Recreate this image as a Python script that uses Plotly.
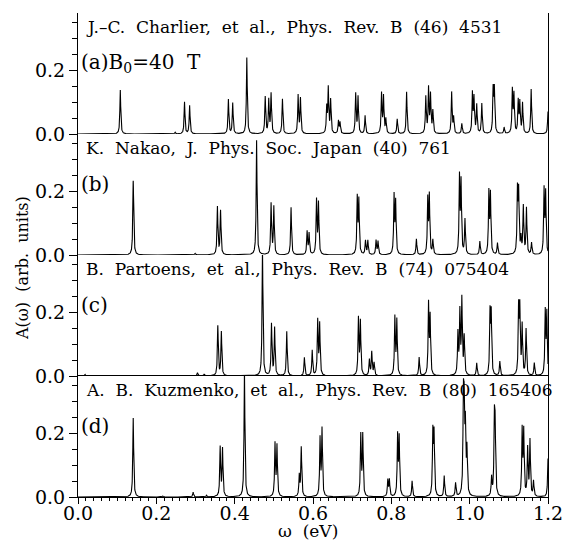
import numpy as np
import plotly.graph_objects as go

# ---- data: peak positions (eV) and heights (arb. units) ----
pos_a = [0.108, 0.248, 0.272, 0.285, 0.384, 0.395, 0.431, 0.478, 0.487, 0.493, 0.522,
         0.562, 0.568, 0.635, 0.639, 0.645, 0.665, 0.669, 0.709, 0.715, 0.733, 0.775,
         0.780, 0.786, 0.815, 0.839, 0.888, 0.895, 0.900, 0.906, 0.954, 0.959, 0.980,
         1.007, 1.011, 1.018, 1.031, 1.060, 1.063, 1.088, 1.109, 1.113, 1.124, 1.128,
         1.135, 1.157, 1.200]
amp_a = [0.138, 0.005, 0.100, 0.089, 0.108, 0.097, 0.240, 0.116, 0.105, 0.125, 0.110,
         0.120, 0.110, 0.080, 0.140, 0.105, 0.040, 0.035, 0.125, 0.115, 0.057, 0.125,
         0.115, 0.045, 0.047, 0.132, 0.115, 0.140, 0.120, 0.070, 0.130, 0.050, 0.032,
         0.125, 0.110, 0.090, 0.095, 0.135, 0.135, 0.020, 0.135, 0.120, 0.100, 0.095,
         0.095, 0.140, 0.070]

pos_b = [0.141, 0.299, 0.356, 0.364, 0.456, 0.493, 0.500, 0.544, 0.585, 0.590, 0.609,
         0.614, 0.713, 0.717, 0.734, 0.740, 0.761, 0.766, 0.807, 0.811, 0.864, 0.893,
         0.897, 0.906, 0.974, 0.978, 0.988, 1.026, 1.049, 1.053, 1.071, 1.122, 1.125,
         1.131, 1.137, 1.145, 1.158, 1.190, 1.194]
amp_b = [0.233, 0.005, 0.150, 0.138, 0.360, 0.160, 0.150, 0.149, 0.072, 0.066, 0.170,
         0.160, 0.176, 0.166, 0.044, 0.044, 0.045, 0.042, 0.182, 0.162, 0.050, 0.172,
         0.182, 0.045, 0.240, 0.222, 0.110, 0.042, 0.192, 0.186, 0.037, 0.195, 0.188,
         0.048, 0.150, 0.145, 0.037, 0.200, 0.190]

pos_c = [0.018, 0.305, 0.322, 0.357, 0.366, 0.471, 0.494, 0.502, 0.533, 0.578, 0.598,
         0.612, 0.617, 0.716, 0.721, 0.744, 0.750, 0.756, 0.809, 0.814, 0.871, 0.895,
         0.899, 0.970, 0.975, 0.980, 0.986, 1.018, 1.052, 1.055, 1.077, 1.125, 1.128,
         1.134, 1.144, 1.165, 1.193, 1.197]
amp_c = [0.005, 0.010, 0.006, 0.156, 0.138, 0.400, 0.162, 0.150, 0.140, 0.058, 0.080,
         0.172, 0.160, 0.178, 0.168, 0.050, 0.074, 0.040, 0.182, 0.172, 0.058, 0.222,
         0.180, 0.130, 0.195, 0.235, 0.120, 0.040, 0.192, 0.188, 0.045, 0.205, 0.200,
         0.155, 0.145, 0.040, 0.198, 0.192]

pos_d = [0.141, 0.216, 0.294, 0.328, 0.363, 0.369, 0.425, 0.503, 0.508, 0.565, 0.570,
         0.618, 0.623, 0.722, 0.727, 0.791, 0.795, 0.816, 0.820, 0.853, 0.906, 0.909,
         0.935, 0.964, 0.984, 0.986, 0.989, 0.993, 1.056, 1.063, 1.065, 1.134, 1.138,
         1.148, 1.154, 1.163, 1.200]
amp_d = [0.248, 0.003, 0.015, 0.005, 0.155, 0.150, 0.400, 0.165, 0.158, 0.066, 0.155,
         0.180, 0.210, 0.192, 0.192, 0.052, 0.052, 0.188, 0.182, 0.050, 0.196, 0.190,
         0.066, 0.043, 0.280, 0.240, 0.200, 0.140, 0.058, 0.225, 0.200, 0.205, 0.200,
         0.150, 0.175, 0.048, 0.120]

NB = "\u00a0\u00a0"
panel_refs = [NB.join(["J.\u2013C.", "Charlier,", "et", "al.,", "Phys.", "Rev.", "B", "(46)", "4531"]),
              NB.join(["K.", "Nakao,", "J.", "Phys.", "Soc.", "Japan", "(40)", "761"]),
              NB.join(["B.", "Partoens,", "et", "al.,", "Phys.", "Rev.", "B", "(74)", "075404"]),
              NB.join(["A.", "B.", "Kuzmenko,", "et", "al.,", "Phys.", "Rev.", "B", "(80)", "165406"])]
panel_tags = ["(a)B<sub>0</sub>=40\u00a0\u00a0T", "(b)", "(c)", "(d)"]

x_ticks = [0.0, 0.2, 0.4, 0.6, 0.8, 1.0, 1.2]
x_ticklabels = ["0.0", "0.2", "0.4", "0.6", "0.8", "1.0", "1.2"]
y_ticks = [0.0, 0.2]
y_ticklabels = ["0.0", "0.2"]

GAMMA = 0.0013  # Lorentzian half width (eV)
w = np.linspace(0.0, 1.2, 6001)


def spectrum(pos, amp):
    a = np.zeros_like(w)
    for p, h in zip(pos, amp):
        a += h * GAMMA ** 2 / ((w - p) ** 2 + GAMMA ** 2)
    return a


panels = [(pos_a, amp_a), (pos_b, amp_b), (pos_c, amp_c), (pos_d, amp_d)]

FONT = "DejaVu Serif"
L, R, T, B = 78, 15, 13, 45
W, H = 563, 542
PH = H - T - B
fig = go.Figure()
n = 4
YMAX = 0.38
for i, (p, h) in enumerate(panels):
    yname = "y" if i == 0 else f"y{i+1}"
    fig.add_trace(go.Scatter(x=w, y=spectrum(p, h), mode="lines",
                             line=dict(color="black", width=1.1),
                             xaxis="x", yaxis=yname, showlegend=False,
                             hoverinfo="skip"))
    top = 1 - i / n
    bot = 1 - (i + 1) / n
    ax = dict(domain=[bot, top], range=[0, YMAX], anchor="x", automargin=False,
              tickmode="array", tickvals=y_ticks, ticktext=y_ticklabels,
              ticks="outside", ticklen=8, tickwidth=1, tickcolor="black",
              minor=dict(dtick=0.05, tick0=0, ticks="outside", ticklen=5,
                         tickcolor="black", tickwidth=1),
              showline=True, linecolor="black", linewidth=1, mirror=True,
              showgrid=False, zeroline=False,
              tickfont=dict(family=FONT, size=19, color="black"))
    key = "yaxis" if i == 0 else f"yaxis{i+1}"
    fig.layout[key] = ax
    yref = ("y" if i == 0 else f"y{i+1}") + " domain"
    fig.add_annotation(text=panel_refs[i], xref="paper", yref=yref,
                       x=0.012, y=0.985, xanchor="left", yanchor="top",
                       showarrow=False,
                       font=dict(family=FONT, size=17, color="black"))
    fig.add_annotation(text=panel_tags[i], xref="paper", yref=yref,
                       x=0.003, y=0.585, xanchor="left", yanchor="middle",
                       showarrow=False,
                       font=dict(family=FONT, size=20, color="black"))

fig.update_layout(
    xaxis=dict(range=[0, 1.2], anchor="y4", automargin=False, tickmode="array",
               tickvals=x_ticks, ticktext=x_ticklabels,
               ticks="outside", ticklen=6, tickwidth=1, tickcolor="black",
               minor=dict(dtick=0.02, tick0=0, ticks="outside", ticklen=3,
                          tickcolor="black", tickwidth=1),
               showline=True, linecolor="black", linewidth=1, mirror=True,
               showgrid=False, zeroline=False, ticklabeloverflow="allow",
               ticklabelstandoff=-7,
               tickfont=dict(family=FONT, size=19, color="black")),
    width=W, height=H,
    margin=dict(l=L, r=R, t=T, b=B),
    plot_bgcolor="white", paper_bgcolor="white",
)
fig.add_annotation(text="\u03c9\u00a0\u00a0(eV)", xref="paper", yref="paper",
                   x=(308 - L) / (W - L - R), y=-(531 - (H - B)) / PH,
                   showarrow=False, xanchor="center", yanchor="middle",
                   font=dict(family=FONT, size=17, color="black"))
fig.add_annotation(text="A(\u03c9)\u00a0\u00a0(arb.\u00a0\u00a0units)", xref="paper", yref="paper",
                   x=-(L - 22) / (W - L - R), y=((H - B) - 268) / PH, textangle=-90,
                   showarrow=False, xanchor="center", yanchor="middle",
                   font=dict(family=FONT, size=16, color="black"))

fig.write_html("out.html", config={"responsive": False, "displayModeBar": False},
               post_script="document.body.style.margin='0px';document.body.style.overflow='hidden';")
